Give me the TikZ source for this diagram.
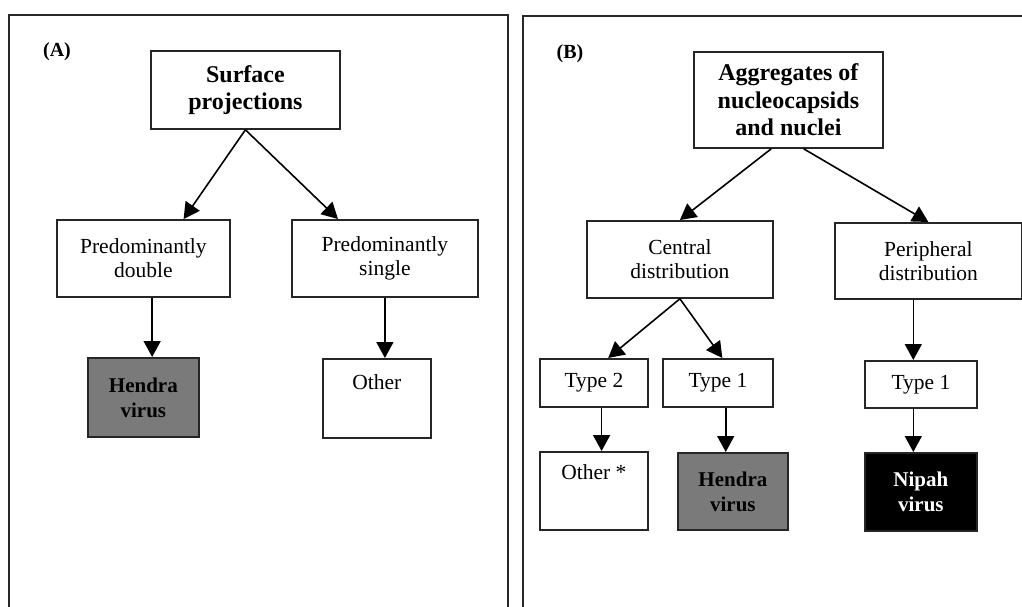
\documentclass[tikz,border=0pt]{standalone}
\usepackage{fontspec}
\setmainfont{Liberation Serif}
\usetikzlibrary{arrows.meta,calc}
\definecolor{hendragray}{RGB}{122,122,122}
\definecolor{framegray}{RGB}{40,40,40}
\begin{document}
\begin{tikzpicture}[x=1pt,y=-1pt,
  frame/.style={draw=framegray,line width=2pt},
  box/.style={draw=black!85,line width=1.8pt,inner sep=0pt,align=center,anchor=north west,
    font=\fontsize{21.5}{24}\selectfont},
  titlebox/.style={box,font=\fontsize{24}{27.5}\selectfont\bfseries},
  virusbox/.style={box,font=\fontsize{21}{25}\selectfont\bfseries},
  panellabel/.style={font=\fontsize{20}{24}\selectfont\bfseries,inner sep=0pt},
  arr/.style={line width=1.6pt,-{Triangle[length=16pt,width=17pt]}}]
\clip (0,0) rectangle (1022,607);
\fill[white] (0,0) rectangle (1022,607);
% frames
\draw[frame] (9,15) rectangle (508,640);
\draw[frame] (523,16) rectangle (1040,640);
\node[panellabel] (labA) at (57,52) {(A)};
\node[panellabel] (labB) at (570,54) {(B)};
% Panel A
\node[titlebox,minimum width=189pt,minimum height=78pt] (sp) at (150,50) {Surface\\projections};
\node[box,minimum width=173pt,minimum height=77pt] (pd) at (56,219) {Predominantly\\double};
\node[box,minimum width=186pt,minimum height=77pt] (ps) at (291,219) {Predominantly\\single};
\node[virusbox,fill=hendragray,minimum width=111pt,minimum height=79pt] (hA) at (87,357) {Hendra\\virus};
\node[box,minimum width=108pt,minimum height=79pt] (oA) at (322,358) {Other\\[2pt]\strut};
\coordinate (pdL) at ($(pd.north west)!0.73!(pd.north east)$);
\coordinate (psL) at ($(ps.north west)!0.25!(ps.north east)$);
\coordinate (pdS) at ($(pd.south west)!0.55!(pd.south east)$);
\draw[arr] (sp.south) -- (pdL);
\draw[arr] (sp.south) -- (psL);
\draw[arr] (pdS) -- (pdS |- hA.north);
\draw[arr] (ps.south) -- (ps.south |- oA.north);
% Panel B
\node[titlebox,minimum width=189pt,minimum height=96pt] (ag) at (693,51) {Aggregates of\\nucleocapsids\\and nuclei};
\node[box,minimum width=186pt,minimum height=77pt] (cd) at (586,220) {Central\\distribution};
\node[box,minimum width=187pt,minimum height=76pt] (pe) at (834,222) {Peripheral\\distribution};
\node[box,minimum width=108pt,minimum height=48pt] (t2) at (539,358) {Type 2};
\node[box,minimum width=110pt,minimum height=48pt] (t1) at (662,358) {Type 1};
\node[box,minimum width=112pt,minimum height=47pt] (t1r) at (864,360) {Type 1};
\node[box,minimum width=108pt,minimum height=78pt] (oB) at (539,451) {Other *\\[6pt]\strut};
\node[virusbox,fill=hendragray,minimum width=110pt,minimum height=77pt] (hB) at (677,452) {Hendra\\virus};
\node[virusbox,fill=black,text=white,minimum width=112pt,minimum height=78pt] (np) at (864,452) {Nipah\\virus};
\coordinate (agL) at ($(ag.south west)!0.41!(ag.south east)$);
\coordinate (agR) at ($(ag.south west)!0.58!(ag.south east)$);
\coordinate (t2L) at ($(t2.north west)!0.63!(t2.north east)$);
\coordinate (t1L) at ($(t1.north west)!0.54!(t1.north east)$);
\coordinate (t2S) at ($(t2.south west)!0.57!(t2.south east)$);
\coordinate (t1S) at ($(t1.south west)!0.57!(t1.south east)$);
\coordinate (peS) at ($(pe.south west)!0.42!(pe.south east)$);
\draw[arr] (agL) -- (cd.north);
\draw[arr] (agR) -- (pe.north);
\draw[arr] (cd.south) -- (t2L);
\draw[arr] (cd.south) -- (t1L);
\draw[arr] (t2S) -- (t2S |- oB.north);
\draw[arr] (t1S) -- (t1S |- hB.north);
\draw[arr] (peS) -- (peS |- t1r.north);
\draw[arr] (peS |- t1r.south) -- (peS |- np.north);
\end{tikzpicture}
\end{document}
